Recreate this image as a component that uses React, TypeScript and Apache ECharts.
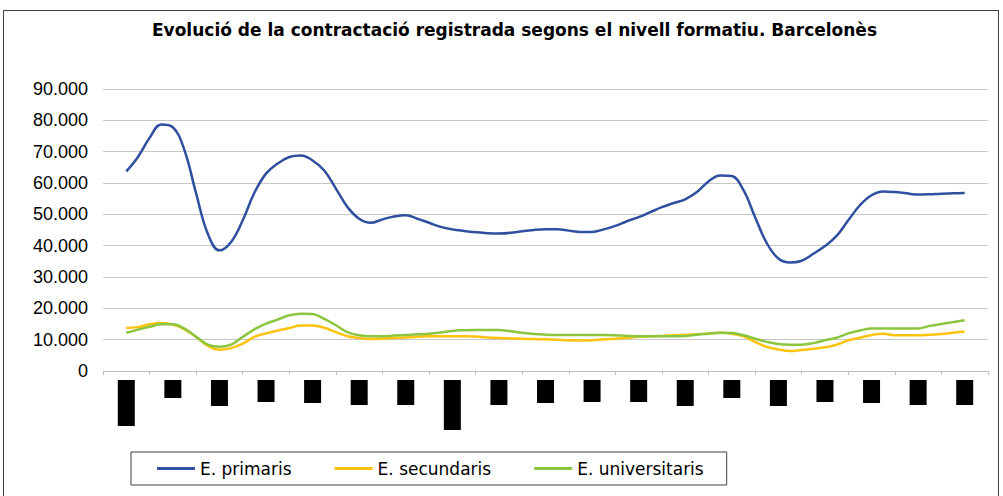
import React, { useEffect, useRef } from "react";
import * as echarts from "echarts";

const title = "Evolució de la contractació registrada segons el nivell formatiu. Barcelonès";

// 19 category slots on the x axis (their labels are redacted in the reference)
const categories: string[] = Array.from({ length: 19 }, (_, i) => String(i + 1));

// quarterly points, 4 per category slot, from slot 1 to slot 19
const primaris = [
  63700, 68300, 74400, 78700, 77800, 70400, 56600, 43800, 38500, 41200,
  48100, 56900, 63000, 66200, 68300, 68800, 67200, 64000, 58200, 52300,
  48600, 47300, 48400, 49300, 49700, 48600, 47300, 46000, 45200, 44700,
  44300, 44000, 43900, 44100, 44600, 45000, 45200, 45200, 44800, 44400,
  44400, 45200, 46300, 47800, 49100, 50700, 52300, 53600, 54800, 57100,
  60500, 62400, 62200, 57700, 49100, 40800, 35900, 34600, 35200, 37400,
  39900, 43100, 48100, 52900, 56100, 57300, 57100, 56700, 56300, 56400,
  56600, 56700, 56800,
];
const secundaris = [
  13700, 14000, 14900, 15300, 14800, 13300, 10900, 8000, 6800, 7300,
  8700, 10900, 12000, 12900, 13700, 14500, 14500, 13800, 12400, 11100,
  10500, 10200, 10300, 10500, 10700, 10900, 11100, 11100, 11100, 11100,
  11000, 10700, 10500, 10400, 10300, 10200, 10100, 10000, 9800, 9700,
  9800, 10100, 10300, 10600, 10900, 11100, 11200, 11400, 11500, 11700,
  12000, 12200, 11900, 11100, 9300, 7700, 6900, 6400, 6700, 7100,
  7600, 8400, 9800, 10600, 11500, 11900, 11400, 11400, 11400, 11600,
  11800, 12200, 12600,
];
const universitaris = [
  12200, 13200, 14100, 14900, 14900, 13500, 10900, 8400, 7700, 8400,
  10900, 13300, 15100, 16400, 17800, 18300, 18200, 16600, 14600, 12400,
  11400, 11100, 11100, 11300, 11500, 11700, 11900, 12300, 12800, 13000,
  13100, 13100, 13100, 12700, 12200, 11800, 11600, 11500, 11500, 11500,
  11500, 11500, 11400, 11200, 11100, 11100, 11100, 11100, 11200, 11600,
  11900, 12200, 12100, 11400, 10300, 9300, 8600, 8400, 8400, 8900,
  9800, 10600, 12000, 12900, 13600, 13600, 13600, 13600, 13600, 14400,
  15000, 15600, 16200,
];

const seriesNames = ["E. primaris", "E. secundaris", "E. universitaris"];

// heights (px) of the black redaction boxes that hide each category label
const redactedLabelHeights = [46, 18, 26, 22, 23, 25, 25, 50, 25, 23, 22, 22, 26, 18, 26, 22, 23, 25, 25];

const fmt = (v: number) => String(v).replace(/\B(?=(\d{3})+(?!\d))/g, ".");

export default function App() {
  const ref = useRef<HTMLDivElement>(null);
  useEffect(() => {
    if (!ref.current) return;
    const chart = echarts.init(ref.current, undefined, { renderer: "svg" });
    const rich: Record<string, any> = {};
    redactedLabelHeights.forEach((h, i) => {
      rich["b" + i] = { width: 17, height: h, backgroundColor: "#000", fontSize: 8, color: "#000" };
    });
    const toPts = (arr: number[]) => arr.map((v, i) => [i, v]);
    const colors = ["#2F4F9F", "#FFC20E", "#8CC63F"];
    const data = [primaris, secundaris, universitaris];
    chart.setOption({
      animation: false,
      title: {
        text: title,
        left: 147,
        top: 16,
        textStyle: { fontFamily: "DejaVu Sans", fontWeight: "bold", fontSize: 17, color: "#000" },
      },
      grid: { left: 103, right: 15, top: 89, bottom: 125, containLabel: false },
      legend: {
        data: seriesNames,
        left: 131,
        top: 452,
        padding: [8, 23, 8, 26],
        borderColor: "#404040",
        borderWidth: 1,
        itemGap: 43,
        itemWidth: 38,
        itemHeight: 3,
        icon: "rect",
        textStyle: { fontFamily: "DejaVu Sans", fontSize: 17, color: "#000" },
      },
      xAxis: [
        {
          type: "category",
          data: categories,
          boundaryGap: true,
          axisLine: { lineStyle: { color: "#bfbfbf" } },
          axisTick: { show: true, length: 4, lineStyle: { color: "#bfbfbf" } },
          splitLine: { show: false },
          axisLabel: {
            interval: 0,
            margin: 9,
            formatter: (_v: string, i: number) => `{b${i}|\u00a0}`,
            rich,
          },
        },
        { type: "value", min: -2, max: 74, show: false },
      ],
      yAxis: {
        type: "value",
        min: 0,
        max: 90000,
        interval: 10000,
        axisLine: { show: false },
        axisTick: { show: false },
        splitLine: { lineStyle: { color: "#c8c8c8" } },
        axisLabel: {
          fontFamily: "Liberation Sans",
          fontSize: 18,
          color: "#000",
          margin: 15,
          formatter: (v: number) => fmt(v),
        },
      },
      series: data.map((arr, i) => ({
        name: seriesNames[i],
        type: "line",
        xAxisIndex: 1,
        data: toPts(arr),
        smooth: 0.4,
        symbol: "none",
        color: colors[i],
        lineStyle: { width: 2.5, color: colors[i] },
      })),
    });
    return () => chart.dispose();
  }, []);
  return (
    <div style={{ position: "absolute", left: 0, top: 0, width: 1003, height: 496, overflow: "hidden", background: "#fff" }}>
      <div
        style={{
          position: "absolute",
          left: 3,
          top: 10,
          width: 996,
          height: 500,
          border: "1px solid #404040",
          boxSizing: "border-box",
        }}
      />
      <div ref={ref} style={{ position: "absolute", left: 0, top: 0, width: 1003, height: 496 }} />
    </div>
  );
}
